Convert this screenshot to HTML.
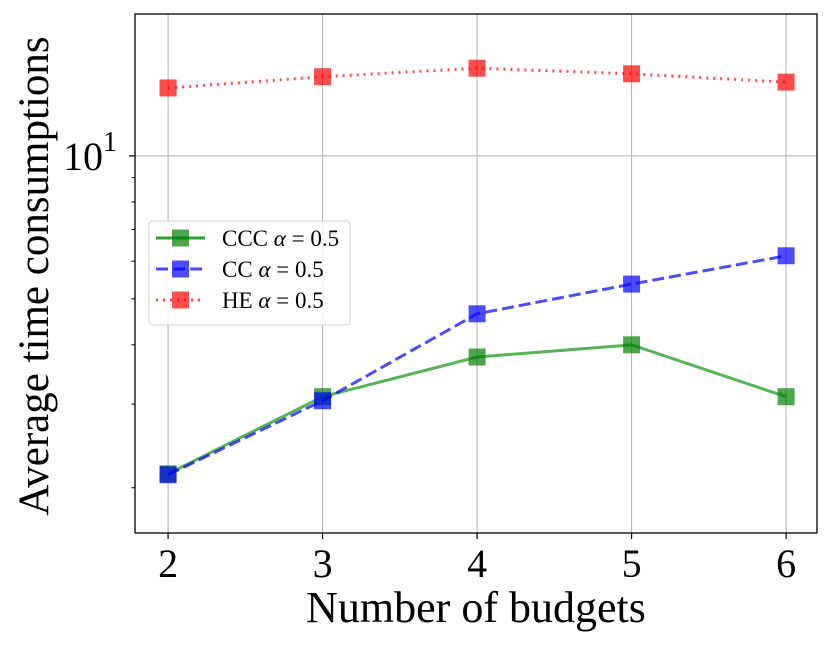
<!DOCTYPE html>
<html><head><meta charset="utf-8"><style>
body{margin:0;background:#fff;}
svg{display:block;font-family:"Liberation Serif","DejaVu Serif",serif;}
</style></head><body>
<svg id="chart" width="831" height="646" viewBox="0 0 831 646" xmlns="http://www.w3.org/2000/svg"></svg>
<script>
const budgets=[2,3,4,5,6];
const cccValues=[2.14,3.11,3.77,4.0,3.11];
const ccValues=[2.13,3.05,4.65,5.37,6.16];
const heValues=[13.9,14.68,15.3,14.89,14.3];
const xTicks=[2,3,4,5,6];
const minorTicks=[2,3,4,5,6,7,8,9];
const seriesNames=["CCC","CC","HE"];

const L=135,R=817,T=14,B=533;
const xMin=1.786,xMax=6.2, yMin=Math.log10(1.606), yMax=Math.log10(19.9);
const X=v=>L+(v-xMin)/(xMax-xMin)*(R-L);
const Y=v=>B-(Math.log10(v)-yMin)/(yMax-yMin)*(B-T);
const svg=document.getElementById('chart');
const NS='http://www.w3.org/2000/svg';
function mk(tag,attrs,parent){const e=document.createElementNS(NS,tag);for(const k in attrs)e.setAttribute(k,attrs[k]);(parent||svg).appendChild(e);return e;}

xTicks.forEach(t=>{
 const g=mk('line',{x1:X(t),x2:X(t),y1:T,y2:B,stroke:'#b0b0b0','stroke-width':1});
 
 
 const tk=mk('line',{x1:X(t),x2:X(t),y1:B,y2:B+6,stroke:'#000','stroke-width':1.2});
 
 
 const lb=mk('text',{x:X(t),y:B+44,'text-anchor':'middle','font-size':40});
 lb.textContent=t;
 
 
});
const gy=mk('line',{x1:L,x2:R,y1:Y(10),y2:Y(10),stroke:'#b0b0b0','stroke-width':1});


const mj=mk('line',{x1:L-6,x2:L,y1:Y(10),y2:Y(10),stroke:'#000','stroke-width':1.2});


minorTicks.forEach(t=>{
 const m=mk('line',{x1:L-3.5,x2:L,y1:Y(t),y2:Y(t),stroke:'#000','stroke-width':1});
 
 
});
const yl=mk('text',{x:L-18,y:Y(10)+14,'text-anchor':'end','font-size':40});
yl.innerHTML='10<tspan dy="-19" font-size="28">1</tspan>';



const series=[
 {vals:cccValues,color:'#2ca02c',fill:'rgba(0,128,0,0.7)',dash:'',name:'series-ccc'},
 {vals:ccValues,color:'rgba(0,0,255,0.7)',fill:'rgba(0,0,255,0.7)',dash:'12,5',name:'series-cc'},
 {vals:heValues,color:'rgba(255,0,0,0.7)',fill:'rgba(255,0,0,0.7)',dash:'2,5',name:'series-he'}
];
series.forEach(s=>{
 const g=mk('g',{});
 
 
 const pts=budgets.map((b,i)=>X(b)+','+Y(s.vals[i])).join(' ');
 const pl=mk('polyline',{points:pts,fill:'none',stroke:s.color,'stroke-width':3,'stroke-dasharray':s.dash,'stroke-opacity':s.name==='series-ccc'?0.8:1},g);
 
 
 budgets.forEach((b,i)=>{
  const r=mk('rect',{x:X(b)-8.5,y:Y(s.vals[i])-8.5,width:17,height:17,fill:s.fill},g);
  
  
 });
});

const fr=mk('rect',{x:L,y:T,width:R-L,height:B-T,fill:'none',stroke:'#000','stroke-width':1.3});



const lg=mk('g',{});


mk('rect',{x:149,y:221,width:201,height:104,rx:4,fill:'rgba(255,255,255,0.85)',stroke:'#d0d0d0','stroke-width':1},lg);
const labels=['CCC','CC','HE'];
series.forEach((s,i)=>{
 const y=238+i*31;
 const e=mk('g',{},lg);
 
 
 mk('line',{x1:156,x2:205,y1:y,y2:y,stroke:s.color,'stroke-width':3,'stroke-dasharray':s.dash},e);
 mk('rect',{x:172,y:y-8.5,width:17,height:17,fill:s.fill},e);
 const t=mk('text',{x:222,y:y+8,'font-size':23},e);
 t.innerHTML=labels[i]+' <tspan font-style="italic">α</tspan> = 0.5';
});

const xt=mk('text',{x:476,y:622,'text-anchor':'middle','font-size':44});
xt.textContent='Number of budgets';


const ytl=mk('text',{x:0,y:0,'text-anchor':'middle','font-size':43,transform:'translate(48,276) rotate(-90)'});
ytl.textContent='Average time consumptions';


</script>
</body></html>
